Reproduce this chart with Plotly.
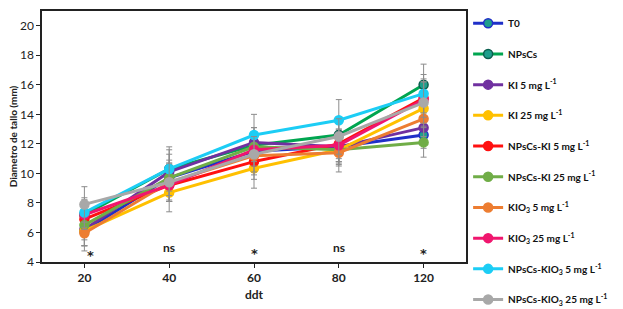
import plotly.graph_objects as go

days = ["20", "40", "60", "80", "120"]

names = ["T0", "NPsCs", "KI 5 mg L<sup>-1</sup>", "KI 25 mg L<sup>-1</sup>",
         "NPsCs-KI 5 mg L<sup>-1</sup>", "NPsCs-KI 25 mg L<sup>-1</sup>",
         "KIO<sub>3</sub> 5 mg L<sup>-1</sup>", "KIO<sub>3</sub> 25 mg L<sup>-1</sup>",
         "NPsCs-KIO<sub>3</sub> 5 mg L<sup>-1</sup>", "NPsCs-KIO<sub>3</sub> 25 mg L<sup>-1</sup>"]

t0 = [6.1, 9.7, 11.5, 11.8, 12.6]
npscs = [7.2, 10.3, 11.9, 12.6, 16.0]
ki5 = [6.2, 10.1, 12.1, 11.8, 13.1]
ki25 = [6.1, 8.7, 10.35, 11.6, 14.4]
npscs_ki5 = [6.9, 9.2, 10.8, 12.0, 15.1]
npscs_ki25 = [6.5, 9.7, 11.8, 11.6, 12.1]
kio3_5 = [5.95, 9.4, 11.2, 11.4, 13.7]
kio3_25 = [7.2, 9.2, 11.6, 11.9, 15.0]
npscs_kio3_5 = [7.35, 10.3, 12.6, 13.6, 15.4]
npscs_kio3_25 = [7.9, 9.4, 11.3, 12.5, 14.8]

err_t0 = [1.0, 1.0, 1.2, 1.1, 0.9]
err_npscs = [1.0, 1.3, 1.2, 1.2, 1.4]
err_ki5 = [1.1, 1.2, 1.0, 1.0, 1.0]
err_ki25 = [1.0, 1.3, 1.35, 1.1, 1.2]
err_npscs_ki5 = [1.1, 1.1, 1.2, 1.0, 1.3]
err_npscs_ki25 = [1.0, 1.2, 1.0, 1.0, 1.0]
err_kio3_5 = [1.2, 1.2, 1.3, 1.3, 1.2]
err_kio3_25 = [1.0, 1.1, 1.1, 1.1, 1.2]
err_npscs_kio3_5 = [1.0, 1.5, 1.4, 1.4, 1.3]
err_npscs_kio3_25 = [1.2, 1.3, 1.2, 1.2, 1.4]

sig_labels = ["*", "ns", "*", "ns", "*"]

series = [t0, npscs, ki5, ki25, npscs_ki5, npscs_ki25, kio3_5, kio3_25, npscs_kio3_5, npscs_kio3_25]
errors = [err_t0, err_npscs, err_ki5, err_ki25, err_npscs_ki5, err_npscs_ki25,
          err_kio3_5, err_kio3_25, err_npscs_kio3_5, err_npscs_kio3_25]

line_colors = ["#1F2FC8", "#00A550", "#7030A0", "#FFC000", "#FF1010",
               "#70AD47", "#ED7D31", "#F0166E", "#1CCDF5", "#A8A8A8"]
marker_colors = ["#1E9E8C", "#1E9E8C", "#7030A0", "#FFC000", "#FF1010",
                 "#70AD47", "#ED7D31", "#F0166E", "#1CCDF5", "#A8A8A8"]
marker_lines = ["#1F2FC8", "#0B5E4E", "#7030A0", "#FFC000", "#FF1010",
                "#70AD47", "#ED7D31", "#F0166E", "#1CCDF5", "#A8A8A8"]

FONT = "Lato"

fig = go.Figure()
for i, (nm, ys, es) in enumerate(zip(names, series, errors)):
    fig.add_trace(go.Scatter(
        x=days, y=ys, name=f"<b>{nm}</b>", mode="lines+markers",
        legendgroup=f"g{i}",
        line=dict(color=line_colors[i], width=3),
        marker=dict(size=9, color=marker_colors[i],
                    line=dict(color=marker_lines[i], width=1.5)),
        error_y=dict(type="data", array=es, visible=True,
                     color="#8C8C8C", thickness=1, width=3),
    ))

sig_y = [4.45, 4.95, 4.55, 4.95, 4.6]
sig_dx = [6, 0, 0, 0, 0]
for i, (lab, yy, dx) in enumerate(zip(sig_labels, sig_y, sig_dx)):
    fig.add_annotation(x=i, y=yy, xref="x", yref="y", text=f"<b>{lab}</b>", showarrow=False,
                       xshift=dx, font=dict(family="DejaVu Sans" if lab == "*" else FONT,
                                            size=13 if lab == "*" else 12, color="#222"))

fig.update_layout(
    width=623, height=309,
    margin=dict(l=42, r=157, t=11, b=47, autoexpand=False),
    paper_bgcolor="white", plot_bgcolor="white",
    font=dict(family=FONT, size=11, color="#222"),
    showlegend=True,
    legend=dict(x=1.005, y=1.009, xanchor="left", yanchor="top",
                font=dict(family=FONT, size=10, color="#111"),
                tracegroupgap=11.7, itemwidth=30, maxheight=400,
                bgcolor="rgba(0,0,0,0)"),
    xaxis=dict(type="category", range=[-0.5, 4.5],
               title=dict(text="<b>ddt</b>", font=dict(family=FONT, size=12), standoff=6),
               showline=True, mirror=True, linecolor="#222", linewidth=1.5,
               ticks="outside", ticklen=4, tickcolor="#222",
               tickfont=dict(family=FONT, size=12), showgrid=False,
               tickprefix="<b>", ticksuffix="</b>"),
    yaxis=dict(range=[4, 21], tickvals=[4, 6, 8, 10, 12, 14, 16, 18, 20],
               title=dict(text="<b>Diametro de tallo (mm)</b>", font=dict(family=FONT, size=10), standoff=0),
               showline=True, mirror=True, linecolor="#222", linewidth=1.5,
               ticks="outside", ticklen=4, tickcolor="#222",
               tickfont=dict(family=FONT, size=12), showgrid=False, zeroline=False,
               tickprefix="<b>", ticksuffix="</b>"),
)

fig.write_html("out.html", config={"displayModeBar": False},
               post_script="document.body.style.margin='0px';")
